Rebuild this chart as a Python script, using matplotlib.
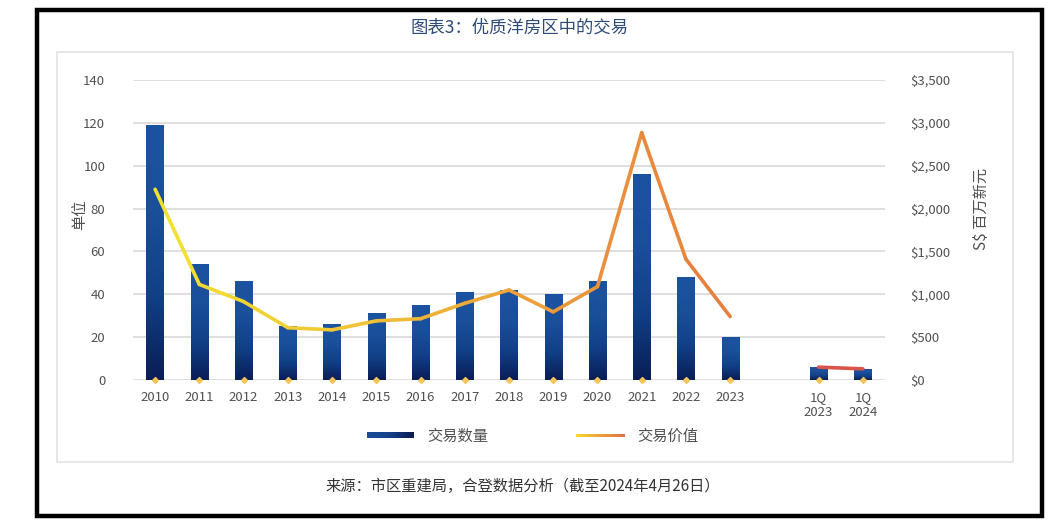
import numpy as np
import matplotlib.pyplot as plt
from matplotlib.colors import LinearSegmentedColormap
from matplotlib.collections import LineCollection
from matplotlib.patches import Rectangle

plt.rcParams['font.family'] = ['Noto Sans CJK SC', 'DejaVu Sans']

# data
categories = ['2010', '2011', '2012', '2013', '2014', '2015', '2016', '2017',
              '2018', '2019', '2020', '2021', '2022', '2023', '1Q\n2023', '1Q\n2024']
units = [119, 54, 46, 25, 26, 31, 35, 41, 42, 40, 46, 96, 48, 20, 6, 5]
value_mil = [2225, 1115, 915, 610, 585, 690, 715, 895, 1050, 795, 1090, 2885,
             1410, 740, 150, 130]
n_years = 14  # yearly points, then a gap, then the two quarters

W, H = 1051, 525
fig = plt.figure(figsize=(W / 100, H / 100), dpi=100)
fig.patch.set_facecolor('white')


def fx(px):
    return px / W


def fy(py):
    return 1 - py / H


# frames
fig.patches.append(Rectangle((fx(37), fy(516)), fx(1042) - fx(37), fy(10) - fy(516),
                             transform=fig.transFigure, fill=False,
                             edgecolor='black', linewidth=3.2, zorder=0))
fig.patches.append(Rectangle((fx(57), fy(462)), fx(1013) - fx(57), fy(52) - fy(462),
                             transform=fig.transFigure, fill=False,
                             edgecolor='#e3e3e3', linewidth=1.2, zorder=0))

fig.text(fx(520), fy(28), '图表3：优质洋房区中的交易', ha='center', va='center',
         fontsize=12.5, color='#2d4a78')
fig.text(fx(523), fy(486), '来源：市区重建局，合登数据分析（截至2024年4月26日）',
         ha='center', va='center', fontsize=11, color='#333333')

ax = fig.add_axes([fx(133), fy(380), fx(885) - fx(133), fy(80) - fy(380)])
pos = list(range(n_years)) + [n_years + 1, n_years + 2]

gray = '#505050'
ax.set_xlim(-0.5, n_years + 2.5)
ax.set_ylim(0, 140)
ax.set_yticks(range(0, 141, 20))
ax.grid(axis='y', color='#d9d9d9', linewidth=1.2)
ax.set_axisbelow(True)
for s in ax.spines.values():
    s.set_visible(False)
ax.tick_params(length=0, labelsize=9.5, labelcolor=gray)
ax.tick_params(axis='y', pad=20)
ax.tick_params(axis='x', pad=8)
ax.set_xticks(pos)
ax.set_xticklabels(categories)
ax.set_ylabel('单位', fontsize=11, color=gray)
ax.yaxis.set_label_coords(-0.06, 0.55)

# bars with vertical gradient: navy at the bottom, brighter blue on top
bar_cmap = LinearSegmentedColormap.from_list('bar', ['#0a1d57', '#114087', '#1a4f9a', '#1c53a0'])
grad = np.linspace(0, 1, 256).reshape(-1, 1)
bw = 0.39
bars = ax.bar(pos, units, width=bw, color='none', zorder=2)
for b in bars:
    x0, h = b.get_x(), b.get_height()
    ax.imshow(grad, extent=[x0, x0 + bw, 0, h], origin='lower', aspect='auto',
              cmap=bar_cmap, zorder=2)
ax.set_xlim(-0.5, n_years + 2.5)
ax.set_ylim(0, 140)

# value line on the right axis
ax2 = ax.twinx()
ax2.set_ylim(0, 3500)
ax2.set_yticks(range(0, 3501, 500))
ax2.set_yticklabels(['${:,.0f}'.format(v) for v in range(0, 3501, 500)])
for s in ax2.spines.values():
    s.set_visible(False)
ax2.tick_params(length=0, labelsize=9.5, labelcolor=gray, pad=18)
ax2.set_ylabel('S$ 百万新元', fontsize=11, color=gray)
ax2.yaxis.set_label_coords(1.117, 0.57)

pts = np.column_stack([pos[:n_years], value_mil[:n_years]])
segs = np.stack([pts[:-1], pts[1:]], axis=1)
line_cmap = LinearSegmentedColormap.from_list('line', ['#f2e030', '#f0c435', '#ec9f3b', '#e6803e'])
lc = LineCollection(segs, colors=line_cmap(np.linspace(0, 1, len(segs))),
                    linewidth=2.6, capstyle='round', joinstyle='round', zorder=3)
ax2.add_collection(lc)
ax2.plot(pos[n_years:], value_mil[n_years:], color='#d9544a', linewidth=2.6,
         solid_capstyle='round', zorder=3)
ax2.scatter(pos, [0] * len(pos), marker='D', s=9, color='#f2c45a', zorder=4,
            clip_on=False)
ax2.set_xlim(-0.5, n_years + 2.5)

# legend drawn by hand so the swatches can carry the gradients
lax1 = fig.add_axes([fx(367), fy(438), fx(414) - fx(367), fy(432) - fy(438)])
lax1.imshow(np.linspace(0, 1, 256).reshape(1, -1), aspect='auto',
            cmap=LinearSegmentedColormap.from_list('lb', ['#1a4f9a', '#14408a', '#0a1a4e']))
lax1.axis('off')
fig.text(fx(427), fy(436), '交易数量', ha='left', va='center', fontsize=11, color=gray)

lax2 = fig.add_axes([fx(576), fy(437.5), fx(625) - fx(576), fy(434) - fy(437.5)])
lax2.imshow(np.linspace(0, 1, 256).reshape(1, -1), aspect='auto',
            cmap=LinearSegmentedColormap.from_list('ll', ['#f3dc2c', '#eda03a', '#e06f44']))
lax2.axis('off')
fig.text(fx(637), fy(436), '交易价值', ha='left', va='center', fontsize=11, color=gray)

fig.savefig('out.png', dpi=100, facecolor='white')
